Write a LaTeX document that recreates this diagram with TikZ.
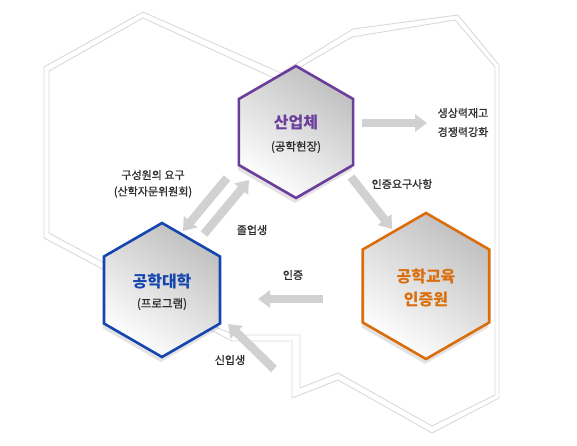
\documentclass[tikz,border=0pt]{standalone}
\usepackage{fontspec}
\setmainfont{Noto Sans CJK KR}
\newfontfamily\krmed{Noto Sans CJK KR}[FakeBold=1]
\usetikzlibrary{shapes.geometric,arrows.meta,shadows}
\definecolor{indpurple}{HTML}{6B3E9C}
\definecolor{univblue}{HTML}{1446AE}
\definecolor{certorange}{HTML}{DB6E0C}
\definecolor{txtgray}{HTML}{2E2E2E}
\begin{document}
\begin{tikzpicture}[x=1pt, y=-1pt,
    frame/.style={draw=black!15, line width=.9pt, line join=miter},
    hexbox/.style={regular polygon, regular polygon sides=6, shape border rotate=30,
        inner sep=0pt, line width=2.6pt, shading=axis, top color=black!25, bottom color=white,
        shading angle=-35, drop shadow={opacity=.22, shadow xshift=-1pt, shadow yshift=-5pt}},
    title/.style={font=\bfseries\fontsize{16}{18}\selectfont},
    sub/.style={font=\krmed\fontsize{11.5}{13}\selectfont, text=txtgray},
    lbl/.style={font=\krmed\fontsize{11}{12}\selectfont, text=txtgray},
    fat/.style={draw=black!18, line width=8.5pt, -{Triangle[width=17pt, length=12pt]}}]
\useasboundingbox (0,0) rectangle (577,446);

% background frame
\draw[frame] (281,73)--(143,12)--(44,67)--(44,238)--(110,273)--(200,322)--(213,331)--(232,341)
    --(292,341)--(292,398)--(338,380)--(432,433)--(499,398)--(499,65)--(458,15)--(353,29)--cycle;
\draw[frame] (278,80)--(143,18)--(49,71)--(49,233)--(110,266)--(195,312)--(213,326)--(235,335)
    --(300,335)--(300,388)--(338,373)--(432,426)--(495,395)--(495,67)--(455,20)--(352,37)--cycle;

% hexagons
\node[hexbox, draw=indpurple, minimum size=132pt] (ind) at (296,132) {};
\node[hexbox, draw=univblue, minimum size=134pt] (univ) at (162,290) {};
\node[hexbox, draw=certorange, minimum size=146pt] (cert) at (426,286) {};

\node[title, text=indpurple] (indT) at (296,123) {산업체};
\node[sub] (indS) at (296,147) {(공학현장)};
\node[title, text=univblue] (univT) at (162,281) {공학대학};
\node[sub] (univS) at (162,304) {(프로그램)};
\node[title, text=certorange] (certT) at (426,276) {공학교육};
\node[title, text=certorange] (certS) at (426,300) {인증원};

% arrows
\coordinate (a1) at (362,123); \coordinate (b1) at (427,123);
\coordinate (a2) at (351,177); \coordinate (b2) at (392,229);
\coordinate (a3) at (323,299); \coordinate (b3) at (258,299);
\coordinate (a4) at (274,369); \coordinate (b4) at (228,324);
\coordinate (a5) at (227,178); \coordinate (b5) at (183,231);
\coordinate (a6) at (204,234); \coordinate (b6) at (249,180);
\foreach \i in {1,...,6}
{
    \draw[fat] (a\i)--(b\i);
}

% labels
\node[lbl] (out1) at (463,113) {생상력재고};
\node[lbl] (out2) at (463,132) {경쟁력강화};
\node[lbl] (req) at (402,184) {인증요구사항};
\node[lbl] (need1) at (153,175) {구성원의 요구};
\node[lbl] (need2) at (153,192) {(산학자문위원회)};
\node[lbl] (grad) at (252,230) {졸업생};
\node[lbl] (acc) at (293,275) {인증};
\node[lbl] (fresh) at (230,360) {신입생};
\end{tikzpicture}
\end{document}
